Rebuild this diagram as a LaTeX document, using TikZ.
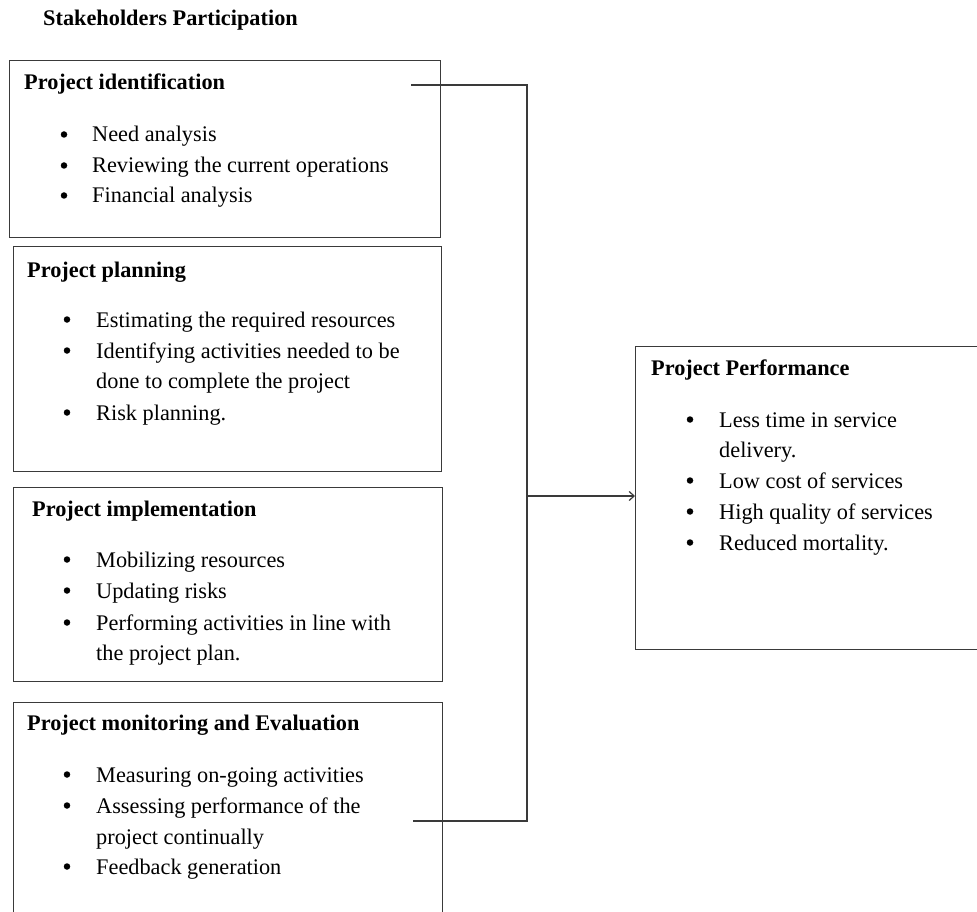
\documentclass[tikz,border=0pt]{standalone}
\usepackage{fontspec}
\setmainfont{Liberation Serif}
\usetikzlibrary{arrows.meta}
\definecolor{linec}{HTML}{3A3A3A}
\tikzset{
  boxst/.style={draw=linec, line width=1.3pt, rectangle, inner sep=0pt, anchor=north west},
  txt/.style={inner sep=0pt, anchor=base west, font=\fontsize{22.3}{31}\selectfont},
  hd/.style={txt, font=\fontsize{22.3}{31}\selectfont\bfseries},
  bulst/.style={circle, fill=black, inner sep=0pt, minimum size=6.5pt, yshift=7.5pt},
  conn/.style={draw=linec, line width=1.2pt},
}
\newcommand{\bul}[5]{\node[bulst] (#1b) at (#2,#4) {}; \node[txt] (#1) at (#3,#4) {#5};}
\begin{document}
\begin{tikzpicture}[x=1pt,y=-1pt]
\clip (0,0) rectangle (977,912);
\fill[white] (0,0) rectangle (977,912);
% title
\node[hd] (title) at (43,26) {Stakeholders Participation};
% box 1
\node[boxst, minimum width=431pt, minimum height=177pt] (b1) at (9,60) {};
\node[hd] (h1) at (24,90) {Project identification};
\bul{i11}{64}{92}{142}{Need analysis}
\bul{i12}{64}{92}{173}{Reviewing the current operations}
\bul{i13}{64}{92}{203}{Financial analysis}
% box 2
\node[boxst, minimum width=428pt, minimum height=225pt] (b2) at (13,246) {};
\node[hd] (h2) at (27,277) {Project planning};
\bul{i21}{67}{96}{327}{Estimating the required resources}
\bul{i22}{67}{96}{358}{Identifying activities needed to be}
\node[txt] (i22c) at (96,388) {done to complete the project};
\bul{i23}{67}{96}{420}{Risk planning.}
% box 3
\node[boxst, minimum width=429pt, minimum height=194pt] (b3) at (13,487) {};
\node[hd] (h3) at (32,516) {Project implementation};
\bul{i31}{67}{96}{567}{Mobilizing resources}
\bul{i32}{67}{96}{598}{Updating risks}
\bul{i33}{67}{96}{630}{Performing activities in line with}
\node[txt] (i33c) at (96,660) {the project plan.};
% box 4
\node[boxst, minimum width=429pt, minimum height=230pt] (b4) at (13,702) {};
\node[hd] (h4) at (27,730) {Project monitoring and Evaluation};
\bul{i41}{67}{96}{782}{Measuring on-going activities}
\bul{i42}{67}{96}{813}{Assessing performance of the}
\node[txt] (i42c) at (96,844) {project continually};
\bul{i43}{67}{96}{874}{Feedback generation}
% performance box
\node[boxst, minimum width=360pt, minimum height=303pt] (perf) at (635,346) {};
\node[hd] (hp) at (651,375) {Project Performance};
\bul{p1}{690}{719}{427}{Less time in service}
\node[txt] (p1c) at (719,457) {delivery.};
\bul{p2}{690}{719}{488}{Low cost of services}
\bul{p3}{690}{719}{519}{High quality of services}
\bul{p4}{690}{719}{550}{Reduced mortality.}
% connectors
\coordinate (c1) at (411,85);
\coordinate (j1) at (527,85);
\coordinate (c4) at (413,821);
\coordinate (j4) at (527,821);
\coordinate (jm) at (527,496);
\draw[conn] (c1) -- (j1) -- (j4) -- (c4);
\draw[conn, -{Straight Barb[length=5pt,width=9pt,line width=1.2pt]}] (jm) -- (jm -| perf.west);
\end{tikzpicture}
\end{document}
